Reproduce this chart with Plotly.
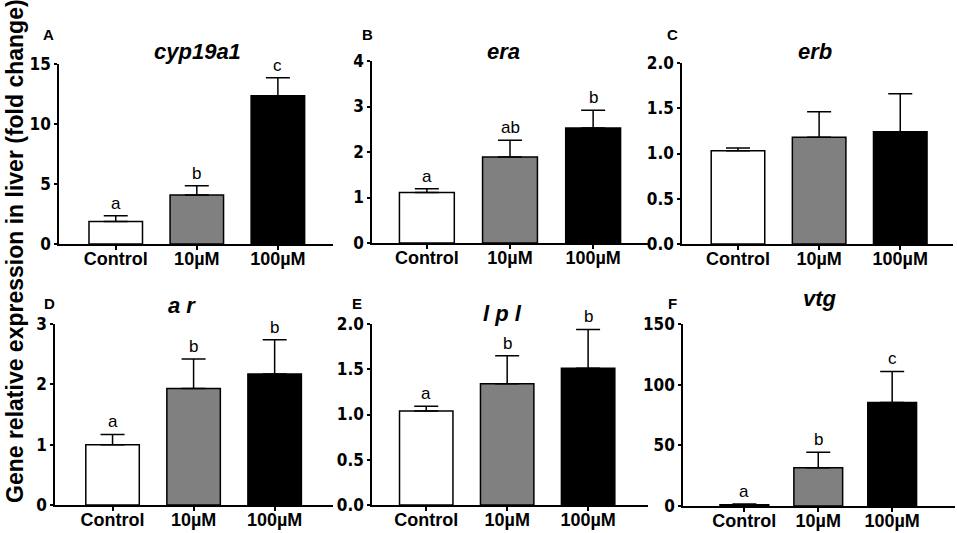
import plotly.graph_objects as go

# treatment groups
categories = ["Control", "10µM", "100µM"]
bar_colours = ["white", "#808080", "black"]

# gene panels
genes = ["cyp19a1", "era", "erb", "a r", "l p l", "vtg"]
panel_letters = ["A", "B", "C", "D", "E", "F"]

# mean fold change and upper error per group
cyp19a1_mean = [1.88, 4.08, 12.36]
cyp19a1_err = [0.48, 0.78, 1.50]
era_mean = [1.11, 1.89, 2.53]
era_err = [0.08, 0.37, 0.39]
erb_mean = [1.03, 1.18, 1.24]
erb_err = [0.03, 0.28, 0.42]
ar_mean = [1.00, 1.93, 2.17]
ar_err = [0.17, 0.49, 0.57]
lpl_mean = [1.04, 1.34, 1.51]
lpl_err = [0.05, 0.31, 0.43]
vtg_mean = [1.0, 31.6, 85.3]
vtg_err = [0.6, 12.7, 25.6]

# significance letters
cyp19a1_sig = ["a", "b", "c"]
era_sig = ["a", "ab", "b"]
erb_sig = ["", "", ""]
ar_sig = ["a", "b", "b"]
lpl_sig = ["a", "b", "b"]
vtg_sig = ["a", "b", "c"]

# y axis ticks
cyp19a1_ticks = [0, 5, 10, 15]
era_ticks = [0, 1, 2, 3, 4]
erb_ticks = [0, 0.5, 1.0, 1.5, 2.0]
ar_ticks = [0, 1, 2, 3]
lpl_ticks = [0, 0.5, 1.0, 1.5, 2.0]
vtg_ticks = [0, 50, 100, 150]

means = [cyp19a1_mean, era_mean, erb_mean, ar_mean, lpl_mean, vtg_mean]
errs = [cyp19a1_err, era_err, erb_err, ar_err, lpl_err, vtg_err]
sigs = [cyp19a1_sig, era_sig, erb_sig, ar_sig, lpl_sig, vtg_sig]
yticks = [cyp19a1_ticks, era_ticks, erb_ticks, ar_ticks, lpl_ticks, vtg_ticks]

W, H = 957, 533

# panel boxes in pixels: x0, x1, ytop, ybottom, xrange
boxes = [
    (59, 333, 64, 244, [-0.70, 2.68]),
    (372, 648, 61, 243, [-0.66, 2.66]),
    (682, 953, 63, 244, [-0.69, 2.65]),
    (55, 333, 324, 505, [-0.71, 2.72]),
    (372, 648, 324, 505, [-0.67, 2.74]),
    (683, 955, 324, 506, [-0.83, 2.85]),
]
title_pos = [(197, 52), (503, 52), (815, 52), (182, 305), (502, 313), (820, 298)]
letter_pos = [(48, 35), (367, 35), (672, 35), (49, 303), (357, 303), (672, 303)]

tick_font = dict(family="Liberation Sans Narrow, DejaVu Sans Condensed", size=17,
                 color="black", weight="bold")
cat_font = dict(family="Liberation Sans, Arial", size=18, color="black", weight="bold")

fig = go.Figure()
annotations = []
layout = {}

for i in range(6):
    n = "" if i == 0 else str(i + 1)
    xa, ya = "x" + n, "y" + n
    x0, x1, yt, yb, xr = boxes[i]
    fig.add_trace(go.Bar(
        x=categories, y=means[i], xaxis=xa, yaxis=ya,
        width=0.66,
        marker=dict(color=bar_colours, line=dict(color="black", width=1.5)),
        error_y=dict(type="data", array=errs[i], arrayminus=[0, 0, 0], symmetric=False,
                     color="black", thickness=1.5, width=12),
        showlegend=False, hoverinfo="skip",
    ))
    layout["xaxis" + n] = dict(
        domain=[x0 / W, x1 / W], anchor=ya, range=xr,
        showline=True, linecolor="black", linewidth=1.5,
        ticks="outside", ticklen=4, tickwidth=1.5, tickcolor="black",
        ticklabelstandoff=-6,
        tickfont=cat_font, showgrid=False, zeroline=False, fixedrange=True,
    )
    layout["yaxis" + n] = dict(
        domain=[1 - yb / H, 1 - yt / H], anchor=xa,
        range=[0, yticks[i][-1]], tickvals=yticks[i],
        tickformat=".1f" if isinstance(yticks[i][1], float) else "d",
        showline=True, linecolor="black", linewidth=1.5,
        ticks="outside", ticklen=3, tickwidth=1.5, tickcolor="black",
        tickfont=tick_font, showgrid=False, zeroline=False, fixedrange=True,
    )
    for c, m, e, s in zip(categories, means[i], errs[i], sigs[i]):
        if s:
            annotations.append(dict(
                x=c, y=m + e, xref=xa, yref=ya, text=s, showarrow=False,
                yanchor="bottom", yshift=1,
                font=dict(family="Liberation Sans, Arial", size=17, color="black"),
            ))
    tx, ty = title_pos[i]
    annotations.append(dict(
        x=tx / W, y=1 - ty / H, xref="paper", yref="paper", text=genes[i],
        showarrow=False, xanchor="center", yanchor="middle",
        font=dict(family="Liberation Sans, Arial", size=22, color="black",
                  weight="bold", style="italic"),
    ))
    lx, ly = letter_pos[i]
    annotations.append(dict(
        x=lx / W, y=1 - ly / H, xref="paper", yref="paper", text=panel_letters[i],
        showarrow=False, xanchor="center", yanchor="middle",
        font=dict(family="Liberation Sans, Arial", size=15, color="black", weight="bold"),
    ))

annotations.append(dict(
    x=15 / W, y=1 - 251 / H, xref="paper", yref="paper",
    text="Gene relative expression in liver (fold change)", textangle=-90,
    showarrow=False, xanchor="center", yanchor="middle",
    font=dict(family="Liberation Sans, Arial", size=23, color="black", weight="bold"),
))

fig.update_layout(
    width=W, height=H,
    margin=dict(l=0, r=0, t=0, b=0, autoexpand=False),
    paper_bgcolor="white", plot_bgcolor="white",
    annotations=annotations, **layout,
)

# drop the default page margin so the figure sits flush in the window
fig.write_html("out.html", config={"displayModeBar": False},
               post_script="document.body.style.margin='0';")
